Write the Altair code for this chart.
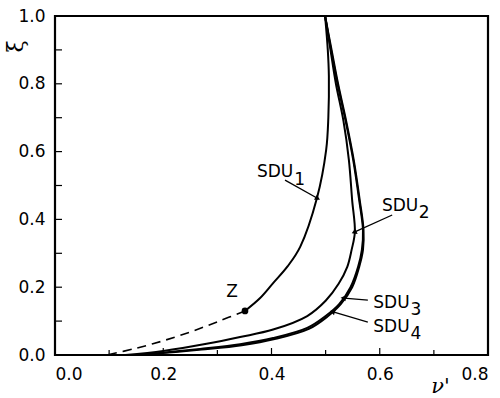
import math
import altair as alt
import pandas as pd

# ---------------- data ----------------
sdu1_x = [0.499, 0.504, 0.506, 0.505, 0.501, 0.484, 0.453, 0.430, 0.403, 0.379, 0.351]
sdu1_y = [1.000, 0.900, 0.823, 0.700, 0.605, 0.463, 0.319, 0.262, 0.212, 0.168, 0.130]

dash_x = [0.351, 0.300, 0.250, 0.200, 0.150, 0.096]
dash_y = [0.130, 0.098, 0.068, 0.042, 0.020, 0.000]

sdu2_x = [0.499, 0.509, 0.519, 0.533, 0.543, 0.549, 0.554, 0.548, 0.540, 0.524, 0.500, 0.466, 0.403, 0.342, 0.280, 0.200, 0.130]
sdu2_y = [1.000, 0.900, 0.800, 0.690, 0.575, 0.457, 0.363, 0.310, 0.260, 0.210, 0.160, 0.115, 0.075, 0.053, 0.033, 0.012, 0.000]

sdu3_x = [0.499, 0.510, 0.522, 0.537, 0.551, 0.562, 0.569, 0.567, 0.560, 0.546, 0.525, 0.500, 0.466, 0.403, 0.342, 0.268, 0.207, 0.150]
sdu3_y = [1.000, 0.900, 0.800, 0.690, 0.575, 0.457, 0.369, 0.310, 0.260, 0.200, 0.150, 0.115, 0.080, 0.050, 0.032, 0.018, 0.008, 0.000]

sdu4_x = [0.499, 0.511, 0.523, 0.538, 0.552, 0.563, 0.570, 0.569, 0.562, 0.549, 0.528, 0.503, 0.469, 0.406, 0.345, 0.271, 0.210, 0.152]
sdu4_y = [1.000, 0.900, 0.800, 0.690, 0.575, 0.457, 0.369, 0.310, 0.260, 0.200, 0.150, 0.113, 0.077, 0.047, 0.029, 0.016, 0.007, 0.000]

point_z = (0.351, 0.130)
z_label = (0.327, 0.186)

label_names = ["SDU", "SDU", "SDU", "SDU"]
label_subs = ["1", "2", "3", "4"]
label_x = [0.373, 0.604, 0.588, 0.588]
label_y = [0.525, 0.425, 0.139, 0.068]
sub_x = [0.442, 0.672, 0.657, 0.657]
sub_y = [0.502, 0.405, 0.118, 0.047]

arrow_x0 = [0.425, 0.623, 0.578, 0.578]
arrow_y0 = [0.516, 0.413, 0.162, 0.097]
arrow_x1 = [0.484, 0.554, 0.534, 0.514]
arrow_y1 = [0.463, 0.363, 0.168, 0.127]

x_ticks_major = [0.2, 0.4, 0.6]
x_ticks_minor = [0.1, 0.3, 0.5, 0.7]
y_ticks = [0.1, 0.2, 0.3, 0.4, 0.5, 0.6, 0.7, 0.8, 0.9]
x_labels = [0.0, 0.2, 0.4, 0.6, 0.8]
y_labels = [0.0, 0.2, 0.4, 0.6, 0.8, 1.0]

# ---------------- layout ----------------
W, H = 433, 339
XMAX, YMAX = 0.8, 1.0
FONT = "DejaVu Sans"

xs = alt.Scale(domain=[0, XMAX], nice=False, zero=False)
ys = alt.Scale(domain=[0, YMAX], nice=False, zero=False)


def curve(name, xv, yv):
    return pd.DataFrame({"x": xv, "y": yv, "s": name, "i": range(len(xv))})


curves = pd.concat([
    curve("SDU1", sdu1_x, sdu1_y),
    curve("SDU2", sdu2_x, sdu2_y),
    curve("SDU3", sdu3_x, sdu3_y),
    curve("SDU4", sdu4_x, sdu4_y),
])
dashed = curve("dash", dash_x, dash_y)

xaxis = alt.Axis(values=x_labels, format=".1f", ticks=False, grid=False, domain=False,
                 labelFont=FONT, labelFontSize=17, labelColor="black", labelPadding=11,
                 title="ν'", titleFont="DejaVu Serif", titleFontStyle="italic",
                 titleFontWeight="normal", titleFontSize=21, titleX=385, titleY=31,
                 titleBaseline="middle", titleColor="black")
yaxis = alt.Axis(values=y_labels, format=".1f", ticks=False, grid=False, domain=False,
                 labelFont=FONT, labelFontSize=17, labelColor="black", labelPadding=10,
                 title="ξ", titleFont="DejaVu Serif", titleFontWeight="normal",
                 titleFontSize=22, titleX=-40, titleY=30, titleAngle=270,
                 titleBaseline="middle", titleAlign="center", titleColor="black")

base_lines = alt.Chart(curves).mark_line(
    color="black", strokeWidth=2, interpolate="catmull-rom"
).encode(
    x=alt.X("x:Q", scale=xs, axis=xaxis),
    y=alt.Y("y:Q", scale=ys, axis=yaxis),
    detail="s:N",
    order="i:Q",
)

dash_line = alt.Chart(dashed).mark_line(
    color="black", strokeWidth=1.6, strokeDash=[9, 6], interpolate="catmull-rom"
).encode(x=alt.X("x:Q", scale=xs), y=alt.Y("y:Q", scale=ys), order="i:Q")

zdf = pd.DataFrame({"x": [point_z[0]], "y": [point_z[1]]})
zpoint = alt.Chart(zdf).mark_circle(color="black", opacity=1, size=45).encode(
    x=alt.X("x:Q", scale=xs), y=alt.Y("y:Q", scale=ys))
ztext = alt.Chart(pd.DataFrame({"x": [z_label[0]], "y": [z_label[1]], "t": ["Z"]})).mark_text(
    font=FONT, fontSize=17, color="black").encode(
    x=alt.X("x:Q", scale=xs), y=alt.Y("y:Q", scale=ys), text="t:N")

lab = pd.DataFrame({"x": label_x, "y": label_y, "t": label_names})
labels = alt.Chart(lab).mark_text(font=FONT, fontSize=17, color="black",
                                  align="left", baseline="alphabetic").encode(
    x=alt.X("x:Q", scale=xs), y=alt.Y("y:Q", scale=ys), text="t:N")
sub = pd.DataFrame({"x": sub_x, "y": sub_y, "t": label_subs})
subs = alt.Chart(sub).mark_text(font=FONT, fontSize=17, color="black",
                                align="left", baseline="alphabetic").encode(
    x=alt.X("x:Q", scale=xs), y=alt.Y("y:Q", scale=ys), text="t:N")

arr = pd.DataFrame({"x": arrow_x0, "y": arrow_y0, "x2": arrow_x1, "y2": arrow_y1})
arr["angle"] = [
    (math.degrees(math.atan2((x1 - x0) / XMAX * W, (y1 - y0) / YMAX * H)) + 360) % 360
    for x0, y0, x1, y1 in zip(arrow_x0, arrow_y0, arrow_x1, arrow_y1)
]
arrow_lines = alt.Chart(arr).mark_rule(color="black", strokeWidth=1.3).encode(
    x=alt.X("x:Q", scale=xs), y=alt.Y("y:Q", scale=ys), x2="x2:Q", y2="y2:Q")
arrow_heads = alt.Chart(arr).mark_point(
    shape="triangle", filled=True, color="black", opacity=1, size=35
).encode(x=alt.X("x2:Q", scale=xs), y=alt.Y("y2:Q", scale=ys),
         angle=alt.Angle("angle:Q", scale=None))

TX = 7 / H * YMAX
TXm = 5 / H * YMAX
TY = 7 / W * XMAX
xt = pd.DataFrame({"x": x_ticks_major + x_ticks_minor,
                   "y": [0.0] * 7,
                   "y2": [TX] * 3 + [TXm] * 4})
xtick = alt.Chart(xt).mark_rule(color="black", strokeWidth=1.2).encode(
    x=alt.X("x:Q", scale=xs), y=alt.Y("y:Q", scale=ys), y2="y2:Q")
yt = pd.DataFrame({"y": y_ticks, "x": [0.0] * len(y_ticks), "x2": [TY] * len(y_ticks)})
ytick = alt.Chart(yt).mark_rule(color="black", strokeWidth=1.2).encode(
    y=alt.Y("y:Q", scale=ys), x=alt.X("x:Q", scale=xs), x2="x2:Q")

chart = alt.layer(
    base_lines, dash_line, zpoint, ztext, labels, subs, arrow_lines, arrow_heads, xtick, ytick
).properties(
    width=W, height=H, autosize="none",
    padding={"left": 55, "top": 16, "right": 12, "bottom": 43},
    background="white",
).configure_view(stroke="black", strokeWidth=2.2)

chart.save("out.html", embed_options={"renderer": "svg", "actions": False})
